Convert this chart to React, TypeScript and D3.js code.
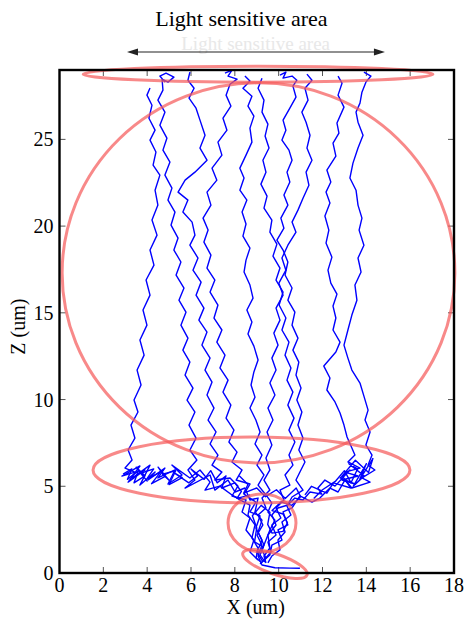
import React from "react";
import * as d3 from "d3";

// ---------- data ----------
const X_TICKS = [0, 2, 4, 6, 8, 10, 12, 14, 16, 18];
const Z_TICKS = [0, 5, 10, 15, 20, 25];
const X_DOMAIN: [number, number] = [0, 18];
const Z_DOMAIN: [number, number] = [0, 29];
const TITLE = "Light sensitive area";
const X_LABEL = "X (um)";
const Z_LABEL = "Z (um)";
// arrow extent in data units (x), drawn above the plot
const ARROW_X: [number, number] = [3.08, 14.85];

type P = [number, number];

const TRAJ_1: P[] = [
  [4.13, 27.96], [3.99, 27.55], [4.22, 26.97], [4.08, 26.22], [4.36, 25.53], [4.13, 24.96],
  [4.4, 24.27], [4.27, 23.52], [4.58, 22.94], [4.36, 22.07], [4.49, 21.21], [4.22, 20.35],
  [4.45, 19.48], [4.13, 18.62], [4.31, 17.75], [3.95, 16.89], [4.13, 16.02], [3.81, 15.16],
  [3.99, 14.29], [3.67, 13.43], [3.86, 12.56], [3.54, 11.7], [3.72, 10.84], [3.4, 9.97],
  [3.58, 9.28], [3.26, 8.53], [3.44, 7.78], [3.13, 7.09], [3.31, 6.51], [2.99, 6.05],
  [3.44, 5.82], [2.85, 5.59], [3.67, 6.17], [3.13, 5.24], [3.9, 5.94], [3.31, 5.48],
  [4.13, 6.22], [3.67, 5.07], [4.36, 5.82], [4.04, 5.36], [4.81, 6.05], [4.49, 5.48],
  [5.27, 5.94], [4.95, 5.13], [5.59, 5.65], [5.13, 6.22], [5.95, 5.48], [6.41, 5.94],
  [6.87, 5.24], [6.64, 4.78], [7.32, 5.01], [7.87, 4.5], [8.23, 4.21], [8.69, 3.92],
  [8.6, 3.34], [8.92, 2.77], [8.78, 2.02], [9.06, 1.44], [8.97, 0.86], [9.24, 0.58],
];

const TRAJ_2: P[] = [
  [4.81, 28.3], [4.58, 28.65], [4.86, 28.82], [5.22, 28.59], [4.95, 28.3], [4.68, 28.47],
  [4.72, 27.84], [4.49, 27.26], [4.81, 26.57], [4.58, 25.82], [4.9, 25.07], [4.72, 24.38],
  [5.04, 23.69], [4.81, 22.94], [5.13, 22.19], [4.95, 21.5], [5.27, 20.81], [5.09, 20.06],
  [5.41, 19.31], [5.22, 18.62], [5.54, 17.93], [5.32, 17.18], [5.68, 16.43], [5.45, 15.73],
  [5.77, 15.04], [5.54, 14.29], [5.86, 13.54], [5.63, 12.85], [5.95, 12.16], [5.73, 11.41],
  [6.09, 10.66], [5.82, 9.97], [6.18, 9.28], [5.91, 8.53], [6.23, 7.78], [5.95, 7.09],
  [6.27, 6.51], [5.86, 5.94], [6.18, 5.36], [5.73, 4.9], [6.87, 5.65], [7.09, 4.78],
  [7.69, 5.36], [8.01, 4.67], [8.46, 4.9], [8.69, 4.21], [9.06, 4.32], [8.92, 3.52],
  [9.24, 3.05], [9.06, 2.36], [9.33, 1.61], [9.15, 1.04], [9.38, 0.63],
];

const TRAJ_3: P[] = [
  [5.95, 28.88], [5.86, 28.41], [6.14, 27.95], [5.91, 27.38], [6.23, 26.8], [6.41, 26.11],
  [6.64, 25.24], [6.41, 24.5], [6.73, 23.8], [6.18, 23.11], [5.73, 22.65], [5.41, 21.96],
  [5.86, 21.5], [5.63, 20.81], [6.05, 20.23], [6.18, 19.48], [5.95, 18.9], [6.32, 18.16],
  [6.09, 17.46], [6.46, 16.77], [6.23, 16.02], [6.59, 15.27], [6.36, 14.58], [6.73, 13.89],
  [6.5, 13.14], [6.87, 12.39], [6.64, 11.7], [6.96, 11.01], [6.73, 10.26], [7.05, 9.51],
  [6.78, 8.82], [7.14, 8.13], [6.87, 7.44], [7.23, 6.8], [6.96, 6.22], [7.41, 5.82],
  [7.09, 5.36], [7.78, 5.48], [8.14, 5.01], [7.87, 4.44], [8.51, 4.21], [8.33, 3.52],
  [8.69, 3.17], [8.51, 2.48], [8.87, 1.9], [8.69, 1.21], [9.06, 0.75],
];

const TRAJ_4: P[] = [
  [7.55, 28.82], [7.87, 28.99], [7.69, 28.65], [8.1, 28.47], [7.78, 28.18], [7.6, 27.55],
  [7.82, 26.92], [7.46, 26.22], [7.64, 25.53], [7.23, 24.84], [7.41, 24.09], [6.96, 23.34],
  [7.18, 22.65], [6.73, 21.96], [6.91, 21.21], [6.55, 20.46], [6.78, 19.77], [6.59, 19.08],
  [6.91, 18.33], [6.73, 17.58], [7.09, 16.89], [6.87, 16.2], [7.23, 15.45], [7.05, 14.7],
  [7.41, 14.01], [7.18, 13.31], [7.55, 12.56], [7.32, 11.82], [7.69, 11.12], [7.46, 10.43],
  [7.82, 9.68], [7.6, 8.93], [7.96, 8.24], [7.73, 7.55], [8.1, 6.97], [7.87, 6.4],
  [8.33, 5.94], [8.06, 5.36], [8.69, 5.13], [8.42, 4.55], [8.96, 4.09], [8.69, 3.52],
  [9.15, 3.29], [8.96, 2.59], [9.24, 1.9], [9.01, 1.21], [9.29, 0.63],
];

const TRAJ_5: P[] = [
  [8.46, 28.65], [8.69, 28.36], [8.37, 27.95], [8.78, 27.49], [8.6, 26.92], [8.87, 26.34],
  [8.69, 25.65], [8.78, 24.84], [8.51, 24.09], [8.23, 23.34], [8.42, 22.77], [8.23, 22.07],
  [8.55, 21.5], [8.33, 20.81], [8.51, 20.12], [8.37, 19.42], [8.69, 18.73], [8.51, 18.04],
  [8.42, 17.35], [8.69, 16.6], [8.83, 15.85], [8.55, 15.16], [8.78, 14.47], [8.6, 13.78],
  [8.87, 13.08], [9.06, 12.28], [8.87, 11.59], [8.74, 10.84], [8.92, 10.14], [8.69, 9.51],
  [8.96, 8.82], [9.15, 8.13], [8.92, 7.44], [9.24, 6.8], [9.01, 6.22], [9.33, 5.65],
  [9.06, 5.07], [9.42, 4.5], [9.69, 4.03], [9.51, 3.52], [9.83, 3.05], [9.6, 2.48],
  [9.42, 1.9], [9.24, 1.33], [9.42, 0.86], [9.15, 0.52],
];

const TRAJ_6: P[] = [
  [9.24, 28.53], [9.06, 27.95], [9.33, 27.26], [9.24, 26.57], [9.51, 25.88], [9.38, 25.19],
  [9.56, 24.5], [9.28, 23.8], [9.42, 23.11], [9.19, 22.42], [9.47, 21.73], [9.33, 21.04],
  [9.69, 20.35], [9.6, 19.65], [9.92, 18.96], [9.74, 18.27], [10.06, 17.58], [9.88, 16.89],
  [10.2, 16.2], [10.02, 15.45], [10.33, 14.7], [10.15, 14.01], [10.47, 13.31], [10.29, 12.56],
  [10.56, 11.82], [10.38, 11.12], [10.65, 10.43], [10.42, 9.68], [10.7, 8.93], [10.47, 8.24],
  [10.74, 7.55], [10.47, 6.8], [10.65, 6.22], [10.29, 5.65], [10.51, 5.07], [10.06, 4.78],
  [10.24, 4.21], [9.88, 3.75], [10.1, 3.17], [9.69, 2.77], [9.88, 2.19], [9.51, 1.79],
  [9.65, 1.21], [9.33, 0.75],
];

const TRAJ_7: P[] = [
  [10.06, 28.7], [10.33, 28.88], [10.2, 28.53], [10.61, 28.65], [10.83, 28.41], [10.65, 28.07],
  [10.79, 27.44], [10.51, 26.8], [10.2, 26.11], [10.33, 25.53], [10.15, 24.96], [10.47, 24.38],
  [10.61, 23.8], [10.38, 23.11], [10.51, 22.54], [10.24, 21.79], [10.42, 21.21], [10.1, 20.46],
  [10.24, 19.88], [9.92, 19.19], [10.2, 18.62], [10.42, 17.93], [10.29, 17.18], [10.61, 16.43],
  [10.42, 15.73], [10.74, 15.04], [10.61, 14.29], [10.88, 13.54], [10.65, 12.85], [10.92, 12.16],
  [10.79, 11.41], [11.02, 10.66], [10.83, 9.97], [11.06, 9.28], [10.88, 8.53], [11.11, 7.78],
  [10.92, 7.09], [11.2, 6.4], [10.97, 5.82], [10.79, 5.36], [11.11, 4.78], [10.61, 4.38],
  [10.38, 3.86], [10.56, 3.34], [10.15, 2.94], [10.29, 2.36], [9.97, 1.9], [10.06, 1.33],
  [9.69, 0.98], [9.51, 0.58],
];

const TRAJ_8: P[] = [
  [11.29, 28.76], [11.52, 28.41], [11.2, 27.95], [11.34, 27.26], [11.06, 26.57], [11.25, 25.99],
  [11.43, 25.24], [11.29, 24.5], [11.52, 23.8], [11.25, 23.11], [11.38, 22.36], [11.11, 21.61],
  [10.88, 20.92], [10.61, 20.23], [10.79, 19.65], [10.42, 18.9], [10.15, 18.16], [10.33, 17.46],
  [10.01, 16.71], [10.2, 16.02], [9.88, 15.27], [10.06, 14.58], [9.78, 13.83], [9.97, 13.14],
  [9.69, 12.39], [9.88, 11.7], [9.6, 10.95], [9.83, 10.26], [9.51, 9.51], [9.74, 8.82],
  [9.47, 8.13], [9.69, 7.38], [9.42, 6.63], [9.6, 5.94], [9.33, 5.36], [9.6, 4.78],
  [9.24, 4.32], [9.42, 3.75], [9.06, 3.34], [9.28, 2.77], [9.01, 2.19], [9.24, 1.61],
  [9.06, 0.98], [9.24, 0.46], [9.83, 0.3], [10.51, 0.28], [10.97, 0.27],
];

const TRAJ_9: P[] = [
  [12.71, 28.65], [12.89, 28.24], [12.71, 27.55], [12.98, 26.86], [12.66, 25.94], [12.75, 25.36],
  [12.48, 24.78], [12.61, 24.03], [12.2, 23.23], [12.38, 22.54], [12.16, 21.96], [12.34, 21.33],
  [12.11, 20.58], [12.29, 19.77], [12.16, 19.02], [12.43, 18.21], [12.25, 17.46], [12.38, 16.71],
  [12.66, 16.08], [12.48, 15.39], [12.61, 14.7], [12.48, 14.01], [12.8, 13.31], [12.61, 12.74],
  [12.06, 11.93], [12.34, 11.24], [12.2, 10.55], [12.57, 9.86], [12.8, 9.22], [12.98, 8.53],
  [13.12, 7.84], [13.3, 7.32], [13.48, 6.8], [13.16, 6.4], [13.71, 6.05], [13.02, 5.82],
  [13.62, 5.59], [12.89, 5.36], [13.48, 5.13], [12.8, 5.48], [13.25, 5.94], [12.57, 5.01],
  [12.11, 5.36], [11.79, 4.9], [11.97, 4.55], [11.43, 4.67], [11.11, 4.21], [10.74, 4.32],
  [10.42, 3.92], [9.97, 3.75], [9.69, 3.34], [9.88, 2.77], [9.51, 2.19], [9.6, 1.44],
  [9.33, 0.98], [9.42, 0.58],
];

const TRAJ_10: P[] = [
  [13.89, 28.88], [14.21, 28.65], [13.98, 28.3], [13.8, 27.72], [13.71, 27.09], [13.53, 26.57],
  [13.62, 25.99], [13.85, 25.24], [13.62, 24.5], [13.39, 23.63], [13.25, 22.77], [13.53, 22.07],
  [13.62, 21.21], [13.8, 20.46], [13.67, 19.77], [13.89, 18.9], [13.62, 18.16], [13.76, 17.35],
  [13.48, 16.6], [13.57, 15.73], [13.34, 14.87], [13.16, 14.01], [12.98, 13.14], [13.16, 12.39],
  [13.34, 11.7], [13.71, 10.95], [13.89, 10.2], [14.08, 9.39], [13.94, 8.82], [14.17, 8.13],
  [13.98, 7.38], [14.26, 6.8], [14.08, 6.22], [14.39, 5.94], [13.8, 5.48], [14.17, 5.24],
  [13.34, 4.9], [13.02, 5.36], [12.71, 4.67], [12.34, 4.9], [11.88, 4.32], [11.52, 4.09],
  [10.97, 4.44], [10.61, 3.75], [10.2, 3.52], [10.42, 2.77], [9.97, 2.48], [10.15, 1.9],
  [9.69, 1.61], [9.6, 1.04], [9.24, 0.63],
];

// dense wandering near the middle band
const LEFT_SCRIBBLE: P[] = [
  [2.9, 5.7], [3.3, 6.0], [3.1, 5.4], [3.6, 5.9], [3.4, 5.2], [3.9, 5.6], [3.5, 6.1],
  [4.0, 5.3], [3.7, 5.75], [4.3, 6.0], [4.0, 5.45], [4.6, 5.8], [4.2, 5.15], [4.8, 5.55],
  [4.5, 6.1], [5.0, 5.35], [4.7, 5.7], [5.3, 5.9], [5.0, 5.1], [5.6, 5.5], [5.2, 5.8],
  [5.9, 5.2], [6.3, 5.6], [6.0, 6.0], [6.6, 5.4], [6.9, 5.9], [7.2, 5.2], [7.6, 5.6],
  [7.4, 4.9], [8.0, 5.2], [8.3, 4.7], [8.1, 4.3], [8.7, 4.5],
];
const RIGHT_SCRIBBLE: P[] = [
  [11.6, 4.3], [12.0, 4.8], [12.6, 5.3], [13.0, 5.9], [13.3, 5.2], [13.6, 6.0], [13.2, 6.3],
  [13.9, 5.6], [13.4, 5.0], [14.0, 6.3], [13.7, 5.4], [14.3, 6.6], [14.1, 5.8], [13.5, 6.5],
  [12.9, 5.6], [13.3, 4.9], [12.5, 5.2], [12.2, 4.6], [11.5, 5.0], [11.2, 4.5],
];
const CENTER_SCRIBBLE: P[] = [
  [8.2, 5.6], [8.6, 5.1], [8.4, 4.6], [9.0, 4.9], [9.4, 4.4], [9.9, 4.8], [10.3, 4.3],
  [10.8, 4.9], [11.0, 4.4], [10.6, 3.9], [10.1, 4.1], [9.7, 3.6], [10.2, 3.4], [10.4, 2.9],
  [10.2, 2.4], [9.7, 2.3], [9.5, 2.8], [9.6, 3.5], [9.2, 3.9], [8.8, 3.3], [9.0, 2.6],
  [8.9, 1.8], [9.3, 1.5], [9.0, 1.1],
];

const TRAJECTORIES: P[][] = [
  TRAJ_1, TRAJ_2, TRAJ_3, TRAJ_4, TRAJ_5, TRAJ_6, TRAJ_7, TRAJ_8, TRAJ_9, TRAJ_10,
  LEFT_SCRIBBLE, RIGHT_SCRIBBLE, CENTER_SCRIBBLE,
];

// highlighted regions (data units; angle in degrees)
const REGION_CX = [9.06, 9.08, 8.76, 9.24, 9.83];
const REGION_CZ = [28.76, 17.3, 5.94, 2.88, 0.52];
const REGION_RX = [7.98, 8.96, 7.23, 1.55, 1.55];
const REGION_RZ = [0.46, 10.96, 1.9, 1.67, 0.58];
const REGION_ANGLE = [0, 0, 0, 0, 19];

// ---------- layout ----------
const W = 465;
const H = 619;
const LEFT = 59.5;
const RIGHT = 454;
const TOP = 70;
const BOTTOM = 573;
const FONT = "'Liberation Serif', 'Times New Roman', serif";

export default function App() {
  const x = d3.scaleLinear().domain(X_DOMAIN).range([LEFT, RIGHT]);
  const z = d3.scaleLinear().domain(Z_DOMAIN).range([BOTTOM, TOP]);
  const line = d3
    .line<P>()
    .x((d) => x(d[0]))
    .y((d) => z(d[1]));
  const sx = x(1) - x(0);
  const sz = z(0) - z(1);
  const arrowY = 52;
  const ax0 = x(ARROW_X[0]);
  const ax1 = x(ARROW_X[1]);

  return (
    <svg
      width={W}
      height={H}
      style={{ position: "absolute", left: 0, top: 0, background: "#fff" }}
      fontFamily={FONT}
    >
      <rect x={0} y={0} width={W} height={H} fill="#fff" />
      {/* faint ghost copy of the title, then the title */}
      <text x={x(8.95)} y={50} fontSize={19} textAnchor="middle" fill="#e8e8e8">
        {TITLE}
      </text>
      <text x={x(8.3)} y={26} fontSize={22} textAnchor="middle" fill="#000">
        {TITLE}
      </text>
      {/* arrow */}
      <line x1={ax0 + 6} x2={ax1 - 6} y1={arrowY} y2={arrowY} stroke="#222" strokeWidth={1.2} />
      <path d={`M${ax0},${arrowY} L${ax0 + 11},${arrowY - 3.5} L${ax0 + 11},${arrowY + 3.5} Z`} fill="#222" />
      <path d={`M${ax1},${arrowY} L${ax1 - 11},${arrowY - 3.5} L${ax1 - 11},${arrowY + 3.5} Z`} fill="#222" />

      {/* ticks */}
      {X_TICKS.map((t) => (
        <g key={"xt" + t}>
          <line x1={x(t)} x2={x(t)} y1={BOTTOM} y2={BOTTOM - 6} stroke="#555" strokeWidth={1} />
          <line x1={x(t)} x2={x(t)} y1={TOP} y2={TOP + 6} stroke="#555" strokeWidth={1} />
          <text x={x(t)} y={BOTTOM + 19} fontSize={20} textAnchor="middle">
            {t}
          </text>
        </g>
      ))}
      {Z_TICKS.map((t) => (
        <g key={"zt" + t}>
          <line x1={LEFT} x2={LEFT + 6} y1={z(t)} y2={z(t)} stroke="#555" strokeWidth={1} />
          <line x1={RIGHT} x2={RIGHT - 6} y1={z(t)} y2={z(t)} stroke="#555" strokeWidth={1} />
          <text x={LEFT - 6} y={z(t)} dy="0.35em" fontSize={20} textAnchor="end">
            {t}
          </text>
        </g>
      ))}

      {/* trajectories */}
      {TRAJECTORIES.map((tr, i) => (
        <path
          key={"tr" + i}
          d={line(tr) || ""}
          fill="none"
          stroke="#0000ff"
          strokeWidth={1.4}
          strokeLinejoin="round"
        />
      ))}

      {/* highlighted regions */}
      {REGION_CX.map((cx, i) => (
        <ellipse
          key={"el" + i}
          cx={x(cx)}
          cy={z(REGION_CZ[i])}
          rx={REGION_RX[i] * sx}
          ry={REGION_RZ[i] * sz}
          transform={`rotate(${REGION_ANGLE[i]} ${x(cx)} ${z(REGION_CZ[i])})`}
          fill="none"
          stroke="#f55c5c"
          strokeOpacity={0.72}
          strokeWidth={3}
        />
      ))}

      {/* frame */}
      <rect
        x={LEFT}
        y={TOP}
        width={RIGHT - LEFT}
        height={BOTTOM - TOP}
        fill="none"
        stroke="#000"
        strokeWidth={2.4}
      />

      {/* axis labels */}
      <text x={x(8.95)} y={614} fontSize={20} textAnchor="middle">
        {X_LABEL}
      </text>
      <text
        transform={`translate(25, ${z(14.2)}) rotate(-90)`}
        fontSize={20}
        textAnchor="middle"
      >
        {Z_LABEL}
      </text>
    </svg>
  );
}
